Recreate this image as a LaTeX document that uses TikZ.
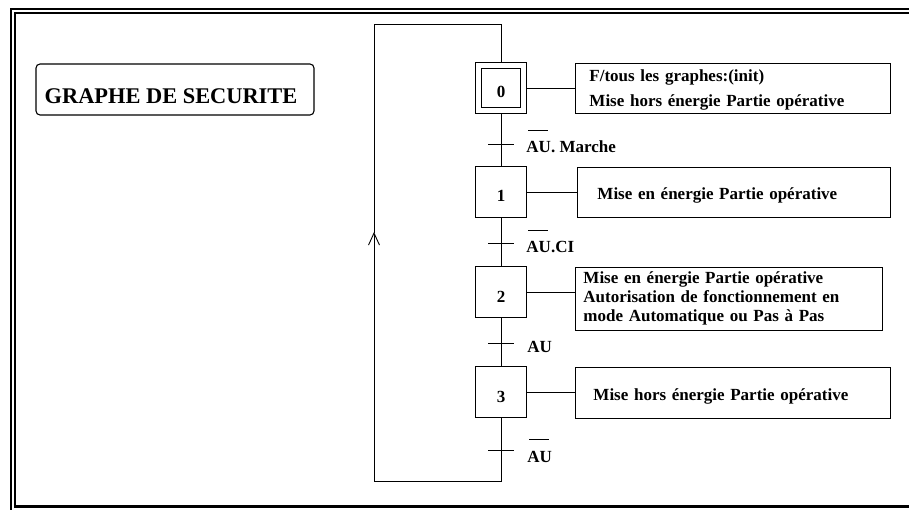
\documentclass[tikz,border=0pt]{standalone}
\usepackage{fontspec}
\setmainfont{Liberation Serif}
\usetikzlibrary{arrows.meta}

% "AU" with its bar set high above the letters
\newcommand{\nonAU}{\makebox[0pt][l]{\hspace{2pt}\rule[22pt]{20pt}{0.9pt}}AU}

\begin{document}
\begin{tikzpicture}[x=1pt, y=-1pt, line width=0.9pt, >={Straight Barb[length=12pt,width=11pt]},
  every node/.style={font=\bfseries\fontsize{17}{19}\selectfont},
  etape/.style={draw, minimum size=51pt, inner sep=0pt, text height=20pt, text depth=0pt},
  init/.style={etape, minimum size=45pt, double, double distance=5pt, outer sep=3.4pt},
  action/.style={draw, anchor=west, align=left, inner ysep=0pt},
  recep/.style={anchor=base west, inner sep=0pt}]
\useasboundingbox (0,0) rectangle (909,510);

% page frame
\draw[line width=2pt] (10.5,512) -- (10.5,9) -- (912,9);
\draw[line width=2pt] (15,506) -- (15,13) -- (912,13);
\draw[line width=3pt] (14,506) -- (912,506);

\node[draw, rounded corners=4pt, line width=1.1pt, minimum width=278pt, minimum height=51pt,
  text height=28pt, text depth=0pt, font=\bfseries\fontsize{22.4}{26}\selectfont] (titre) at (175,89.5)
  {GRAPHE DE SECURITE\hspace*{8pt}};

% steps
\node[init]  (s0) at (501,88)  {0};
\node[etape] (s1) at (501,192) {1};
\node[etape] (s2) at (501,292) {2};
\node[etape] (s3) at (501,392) {3};

% actions
\node[action, inner xsep=14pt, text width=287pt, minimum height=50pt, text depth=24pt] (a0) at (575,88)
  {F/tous les graphes:(init)\\[6pt]Mise hors énergie Partie opérative};
\node[action, inner xsep=20pt, text width=273pt, minimum height=50pt, text height=16pt, text depth=0pt] (a1) at (577,192)
  {Mise en énergie Partie opérative};
\node[action, inner xsep=8pt, text width=291pt, minimum height=63pt, text depth=41pt] (a2) at (575,298.5)
  {Mise en énergie Partie opérative\\Autorisation de fonctionnement en\\mode Automatique ou Pas à Pas};
\node[action, inner xsep=18pt, text width=279pt, minimum height=51pt, text height=16pt, text depth=0pt] (a3) at (575,392.5)
  {Mise hors énergie Partie opérative};

\foreach \i in {0,...,3}
  \draw (s\i.east) -- (s\i.east -| a\i.west);

% links and transitions
\draw (s0) -- (s1);
\draw (s1) -- (s2);
\draw (s2) -- (s3);
\draw[->] (s3) |- (374,481) -- (374,232);
\draw (374,233) -- (374,24) -| (s0);

\foreach \y in {144,243,343,450}
  \draw (488,\y) -- (514,\y);

\node[recep] (r0) at (526,153) {\nonAU. Marche};
\node[recep] (r1) at (526,253) {\nonAU.CI};
\node[recep] (r2) at (527,352) {AU};
\node[recep] (r3) at (527,462) {\nonAU};

\end{tikzpicture}
\end{document}
